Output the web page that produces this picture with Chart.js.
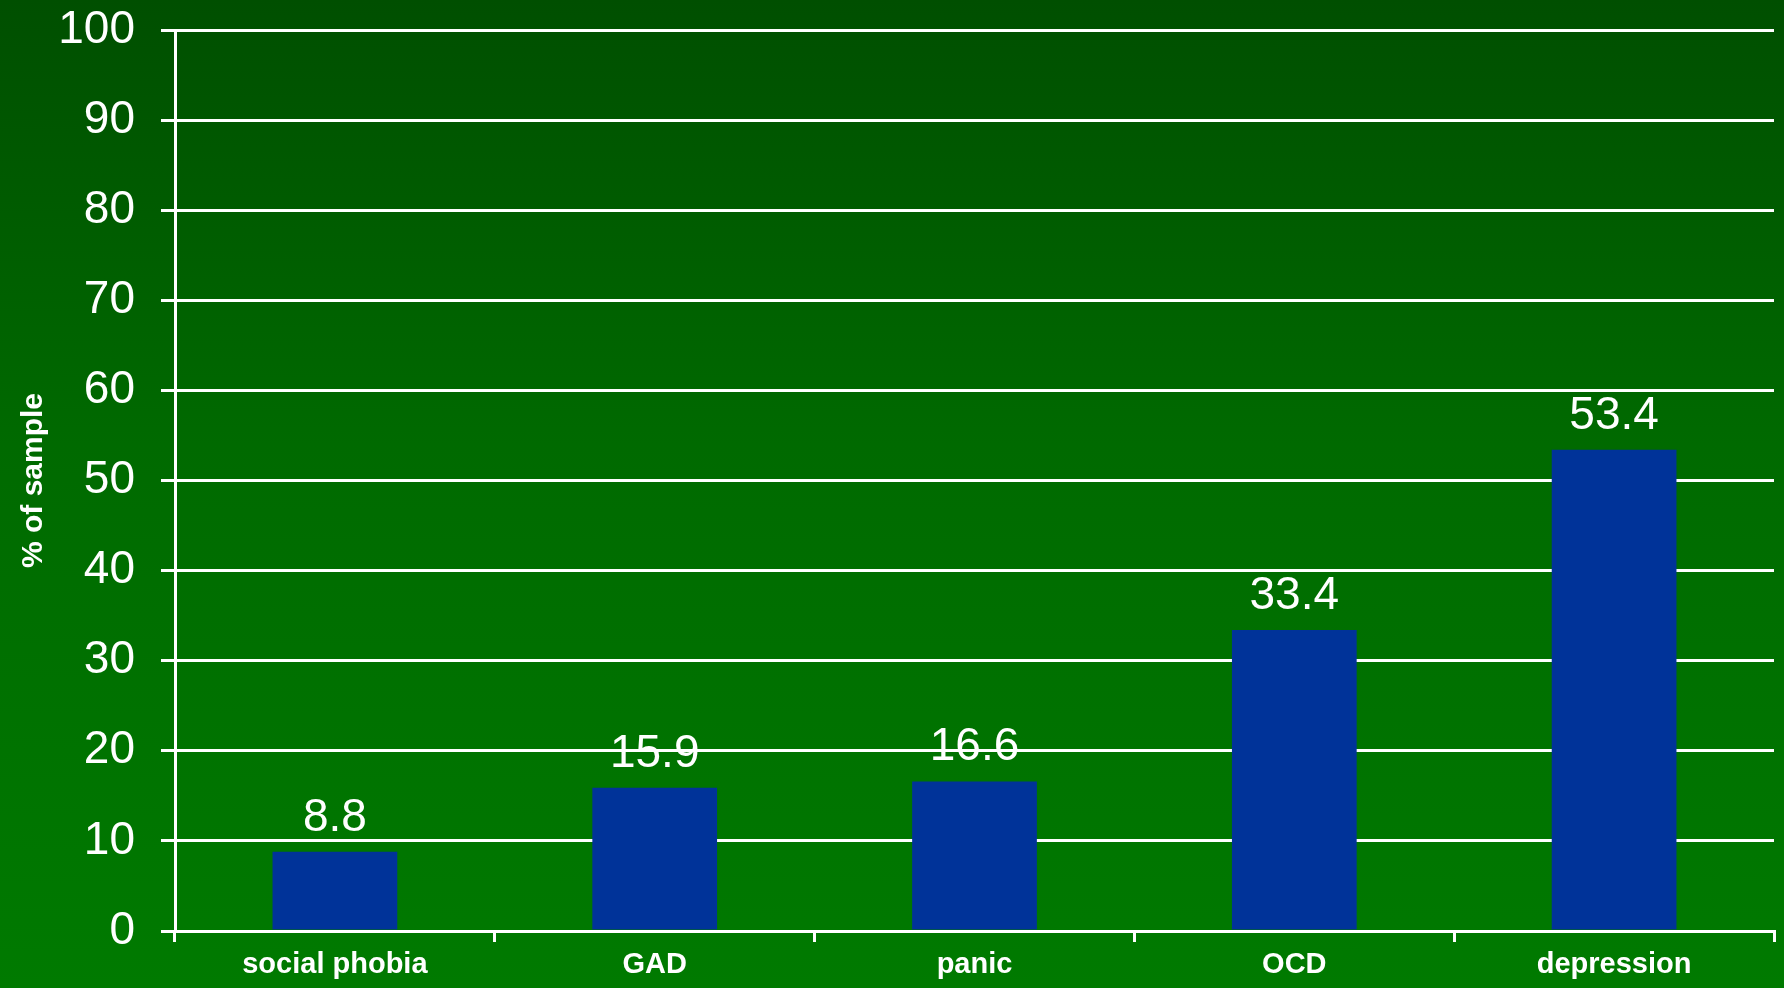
<!DOCTYPE html>
<html>
<head>
<meta charset="utf-8">
<script src="https://cdn.jsdelivr.net/npm/chart.js@4/dist/chart.umd.min.js"></script>
<style>
  html, body { margin: 0; padding: 0; }
  body { width: 1784px; height: 988px; overflow: hidden; }
  #wrap { width: 1784px; height: 988px;
    background: linear-gradient(to bottom, #004f00 0%, #006a00 45%, #007a00 100%); }
</style>
</head>
<body>
<div id="wrap"><canvas id="chart" width="1784" height="988"></canvas></div>
<script>
  // Comorbid conditions, percent of sample
  const categories = ['social phobia', 'GAD', 'panic', 'OCD', 'depression'];
  const percentValues = [8.8, 15.9, 16.6, 33.4, 53.4];
  const yTicks = [0, 10, 20, 30, 40, 50, 60, 70, 80, 90, 100];

  const FONT = '"Liberation Sans", Arial, sans-serif';

  // value text above each bar
  const valueLabels = {
    id: 'valueLabels',
    afterDatasetsDraw(chart) {
      const ctx = chart.ctx;
      const meta = chart.getDatasetMeta(0);
      ctx.save();
      ctx.fillStyle = '#ffffff';
      ctx.font = '46px ' + FONT;
      ctx.textAlign = 'center';
      ctx.textBaseline = 'alphabetic';
      meta.data.forEach((bar, i) => {
        ctx.fillText(percentValues[i].toFixed(1), bar.x, bar.y - 21);
      });
      ctx.restore();
    }
  };

  new Chart(document.getElementById('chart'), {
    type: 'bar',
    data: {
      labels: categories,
      datasets: [{
        data: percentValues,
        backgroundColor: '#003399',
        borderWidth: 0,
        barPercentage: 0.39,
        categoryPercentage: 1
      }]
    },
    options: {
      responsive: false,
      animation: false,
      layout: { padding: { top: 30, right: 10, left: 0, bottom: 0 } },
      plugins: {
        legend: { display: false },
        tooltip: { enabled: false }
      },
      scales: {
        x: {
          afterFit(scale) { scale.height = 57; },
          grid: {
            offset: true,
            drawOnChartArea: false,
            drawTicks: true,
            tickLength: 11,
            color: '#ffffff',
            lineWidth: 3
          },
          border: { color: '#ffffff', width: 3 },
          ticks: {
            color: '#ffffff',
            font: { family: FONT, size: 29, weight: 'bold' },
            padding: 6,
            maxRotation: 0
          }
        },
        y: {
          min: 0,
          max: 100,
          afterFit(scale) {
            scale.width = 175;
            scale.paddingTop = 0;
            scale.paddingBottom = 0;
          },
          afterBuildTicks(scale) { scale.ticks = yTicks.map(v => ({ value: v })); },
          grid: {
            color: '#ffffff',
            lineWidth: 3,
            tickLength: 14
          },
          border: { color: '#ffffff', width: 3 },
          ticks: {
            color: '#ffffff',
            font: { family: FONT, size: 46 },
            padding: 26
          },
          title: {
            display: true,
            text: '% of sample',
            color: '#ffffff',
            font: { family: FONT, size: 30, weight: 'bold' },
            padding: { top: 16, bottom: 0 }
          }
        }
      }
    },
    plugins: [valueLabels]
  });
</script>
</body>
</html>
